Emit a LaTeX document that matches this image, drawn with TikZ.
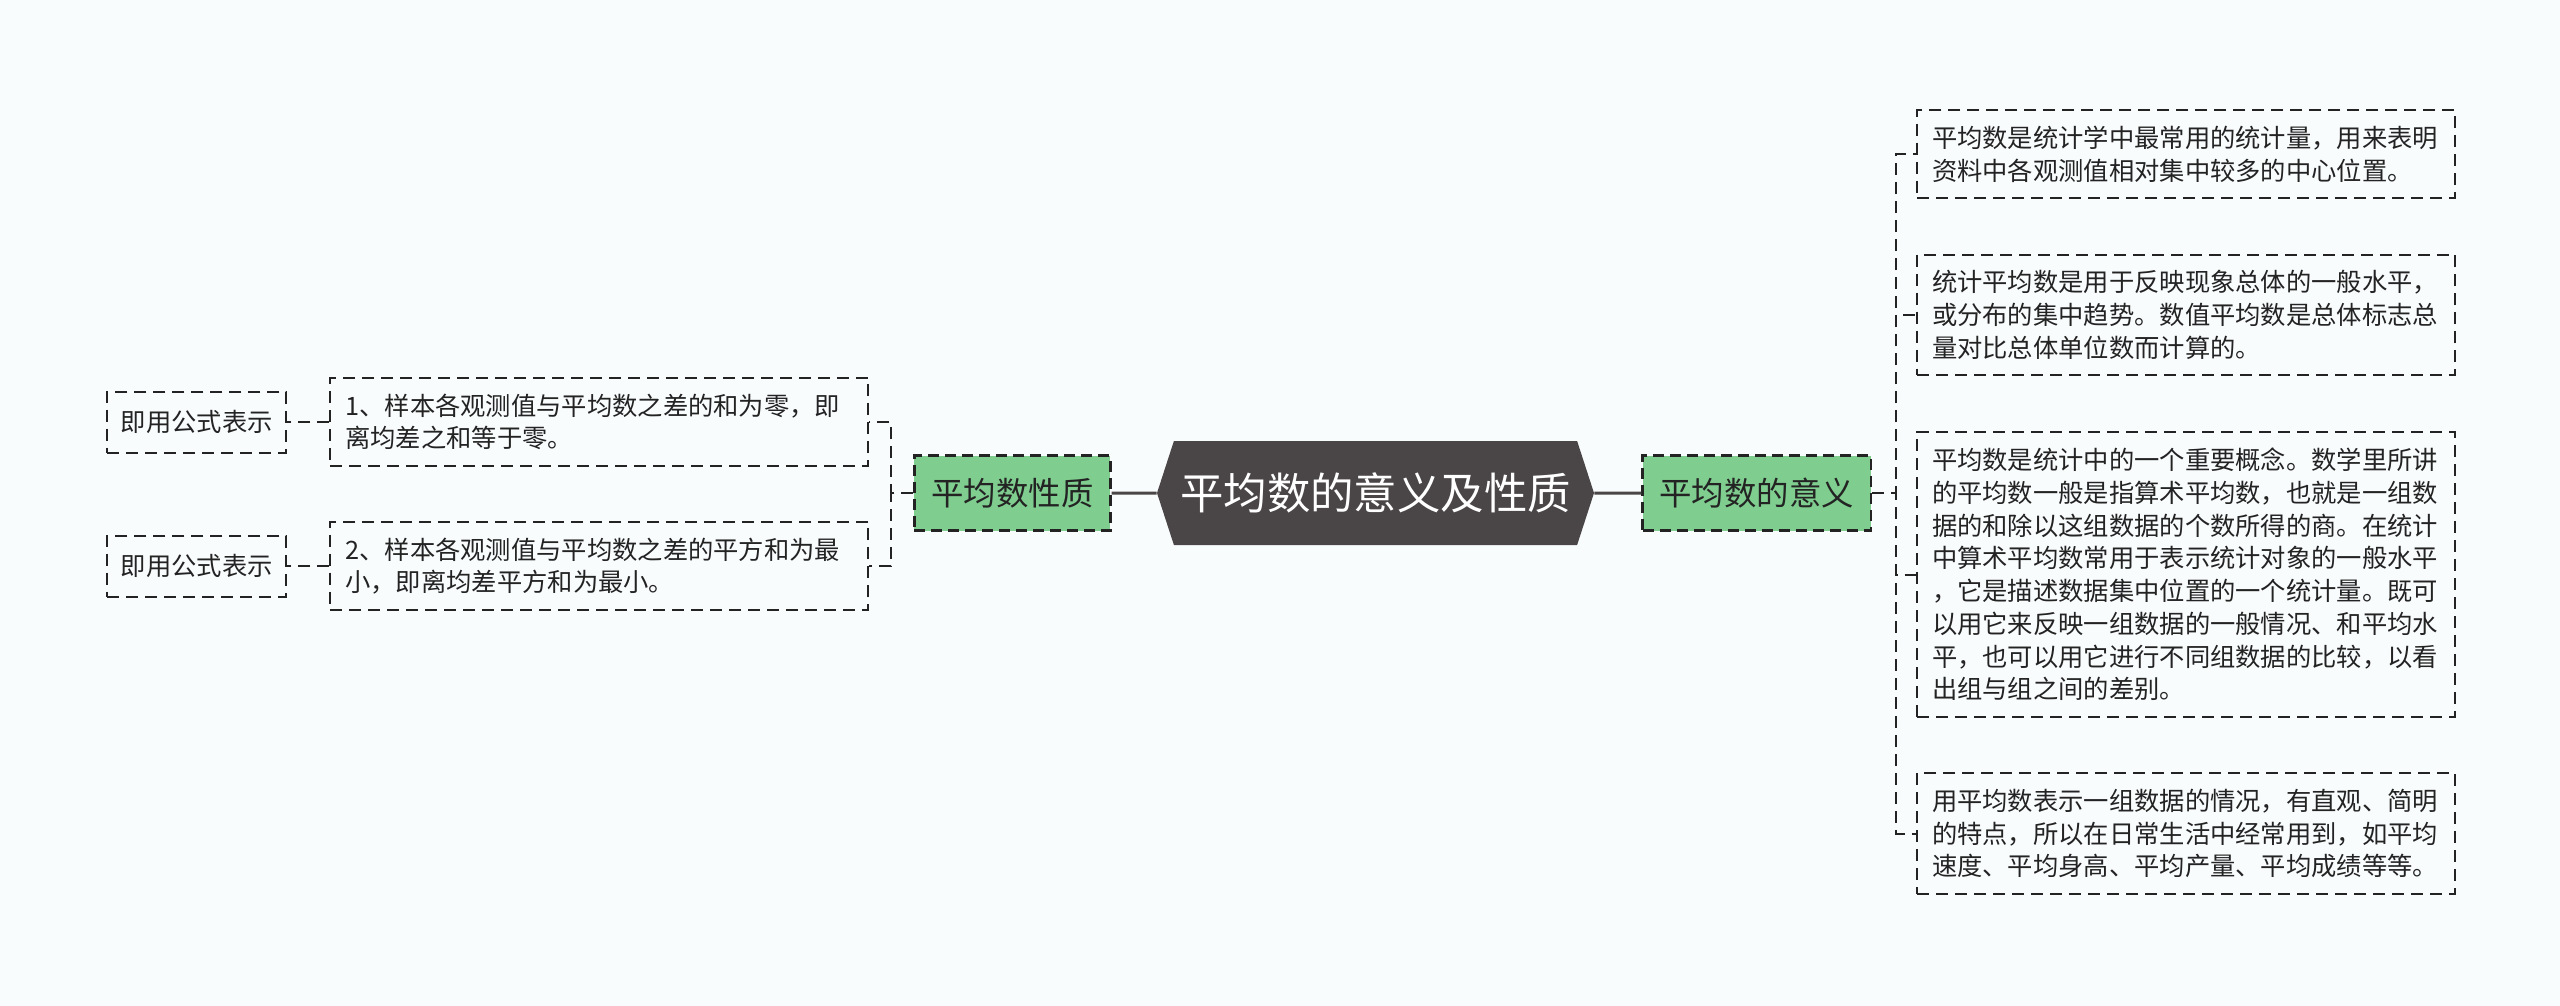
\documentclass[tikz,border=0pt]{standalone}
\usepackage{fontspec}
\setmainfont{Noto Sans CJK SC}
\usepackage{xcolor}
\definecolor{paperwhite}{RGB}{249,252,253}
\definecolor{rootgray}{RGB}{74,69,70}
\definecolor{topicgreen}{RGB}{127,205,143}
\definecolor{inkgray}{RGB}{35,35,35}
\usetikzlibrary{
  positioning,
  shapes.symbols
}
\tikzset{
  rootbox/.style={signal, signal to=east and west, signal pointer angle=144,
    fill=rootgray, text=white, inner sep=0pt,
    minimum width=218.5pt, minimum height=52pt,
    font=\fontsize{21.7}{26}\selectfont},
  topicbox/.style={draw=inkgray, dash pattern=on 5.5pt off 3pt, line width=1.1pt,
    fill=topicgreen, text=inkgray, inner xsep=8.5pt,
    minimum height=37.5pt, font=\fontsize{16.2}{20}\selectfont},
  notebox/.style={draw=inkgray, dash pattern=on 6pt off 3.5pt, line width=1pt,
    text=inkgray, align=left, text width=254pt,
    inner xsep=7.5pt, inner ysep=8pt,
    font=\fontsize{12.65}{16.35}\selectfont},
  tagbox/.style={draw=inkgray, dash pattern=on 6pt off 3.5pt, line width=1pt,
    text=inkgray, inner xsep=6.8pt, minimum height=30.5pt,
    font=\fontsize{12.65}{16.35}\selectfont},
  link/.style={draw=inkgray, dash pattern=on 6pt off 3.5pt, line width=1pt},
  rootlink/.style={draw=rootgray, line width=1.5pt},
}

\begin{document}
\begin{tikzpicture}[node distance=23.5pt]
  % Page
  \fill[paperwhite] (0,0) rectangle (1280pt,-503pt);
  \useasboundingbox (0,0) rectangle (1280pt,-503pt);

  % Root and the two topics
  \node[rootbox] (root) at (687.75pt,-246.5pt) {平均数的意义及性质};
  \node[topicbox, right=23.5pt of root] (meaning) {平均数的意义};
  \node[topicbox, left=22.5pt of root] (property) {平均数性质};

  % Right side: meaning notes
  \node[notebox, right=22pt of meaning, yshift=169.5pt] (m1)
    {平均数是统计学中最常用的统计量，用来表明\\
     资料中各观测值相对集中较多的中心位置。};
  \node[notebox, right=22pt of meaning, yshift=89pt] (m2)
    {统计平均数是用于反映现象总体的一般水平，\\
     或分布的集中趋势。数值平均数是总体标志总\\
     量对比总体单位数而计算的。};
  \node[notebox, right=22pt of meaning, yshift=-40.75pt] (m3)
    {平均数是统计中的一个重要概念。数学里所讲\\
     的平均数一般是指算术平均数，也就是一组数\\
     据的和除以这组数据的个数所得的商。在统计\\
     中算术平均数常用于表示统计对象的一般水平\\
     ，它是描述数据集中位置的一个统计量。既可\\
     以用它来反映一组数据的一般情况、和平均水\\
     平，也可以用它进行不同组数据的比较，以看\\
     出组与组之间的差别。};
  \node[notebox, right=22pt of meaning, yshift=-170.25pt] (m4)
    {用平均数表示一组数据的情况，有直观、简明\\
     的特点，所以在日常生活中经常用到，如平均\\
     速度、平均身高、平均产量、平均成绩等等。};

  % Left side: property notes
  \node[notebox, left=22pt of property, yshift=35.5pt] (p1)
    {1、样本各观测值与平均数之差的和为零，即\\
     离均差之和等于零。};
  \node[notebox, left=22pt of property, yshift=-36.5pt] (p2)
    {2、样本各观测值与平均数之差的平方和为最\\
     小，即离均差平方和为最小。};
  \node[tagbox, left=21pt of p1] (t1) {即用公式表示};
  \node[tagbox, left=21pt of p2] (t2) {即用公式表示};

  % Connectors
  \draw[rootlink] (root) -- (meaning);
  \draw[rootlink] (root) -- (property);
  \foreach \n in {m1, m2, m3, m4} {
    \draw[link] (meaning.east) -- ++(12pt,0) |- (\n.west);
  }
  \foreach \n in {p1, p2} {
    \draw[link] (property.west) -- ++(-11pt,0) |- (\n.east);
  }
  \foreach \s/\t in {p1/t1, p2/t2} {
    \draw[link] (\s) -- (\t);
  }
\end{tikzpicture}
\end{document}
